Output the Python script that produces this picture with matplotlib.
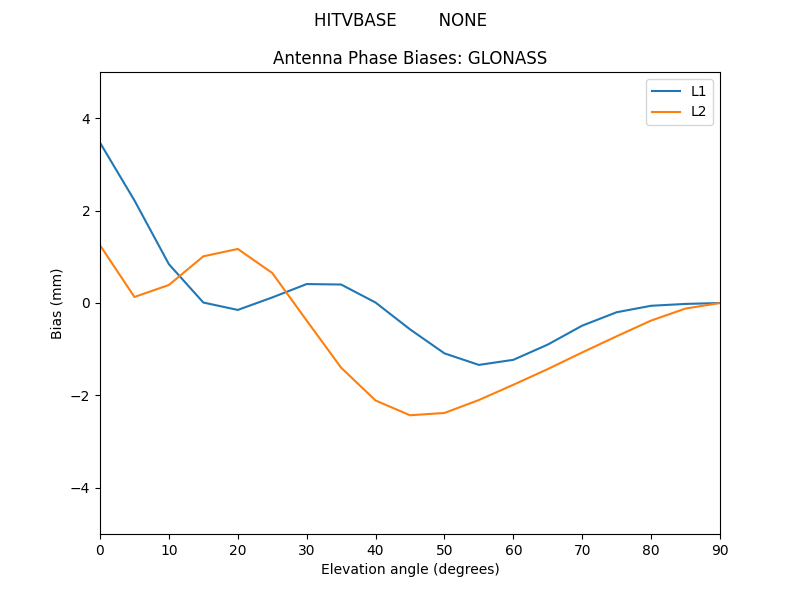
import matplotlib
matplotlib.use("Agg")
import matplotlib.pyplot as plt

# elevation angles and biases
elevation = [0, 5, 10, 15, 20, 25, 30, 35, 40, 45, 50, 55, 60, 65, 70, 75, 80, 85, 90]
l1_bias = [3.47, 2.22, 0.84, 0.01, -0.15, 0.12, 0.41, 0.40, 0.01, -0.57, -1.09, -1.34,
           -1.23, -0.90, -0.49, -0.20, -0.06, -0.02, 0.0]
l2_bias = [1.25, 0.13, 0.39, 1.01, 1.17, 0.65, -0.38, -1.40, -2.11, -2.43, -2.38, -2.10,
           -1.77, -1.43, -1.07, -0.72, -0.38, -0.12, 0.0]

fig, ax = plt.subplots(figsize=(8, 6), dpi=100)
ax.plot(elevation, l1_bias, label="L1")
ax.plot(elevation, l2_bias, label="L2")

ax.set_xlim(0, 90)
ax.set_ylim(-5, 5)
ax.set_xlabel("Elevation angle (degrees)")
ax.set_ylabel("Bias (mm)")
ax.set_title("Antenna Phase Biases: GLONASS")
fig.suptitle("HITVBASE        NONE")
ax.legend(loc="upper right")

fig.savefig("out.png")
